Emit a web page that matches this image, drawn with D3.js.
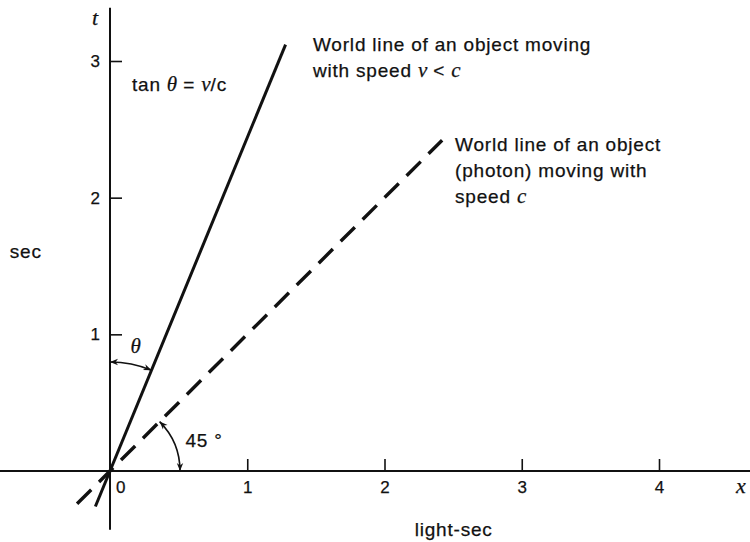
<!DOCTYPE html>
<html>
<head>
<meta charset="utf-8">
<script src="https://cdn.jsdelivr.net/npm/d3@7"></script>
<style>
  body { margin: 0; background: #fff; }
  svg { display: block; }
  .lbl { font-family: "Liberation Sans", Arial, sans-serif; font-size: 19px; letter-spacing: 0.8px; fill: #111; stroke: #111; stroke-width: 0.25px; }
  .math { font-family: "Liberation Serif", "Times New Roman", serif; font-style: italic; letter-spacing: 0; }
  .tick text { font-family: "Liberation Sans", Arial, sans-serif; font-size: 17px; fill: #111; stroke: #111; stroke-width: 0.25px; }
  .tick line { stroke: #111; stroke-width: 1.6; }
</style>
</head>
<body>
<script>
// ------------------------------------------------------------------
// data (x in light-sec, t in sec)
// ------------------------------------------------------------------
var X_TICKS = [1, 2, 3, 4];
var T_TICKS = [1, 2, 3];
var X_AXIS_EXTENT = [-0.81, 4.67];
var T_AXIS_EXTENT = [-0.43, 3.39];

// slow object: v/c, drawn between these times
var SLOW_SPEED = 0.41;
var SLOW_T = [-0.26, 3.12];
// photon: v = c
var PHOTON_SPEED = 1;
var PHOTON_T = [-0.24, 2.42];

var W = 750, H = 542;

var x = d3.scaleLinear().domain([0, 4]).range([110, 659]);
var y = d3.scaleLinear().domain([0, 3]).range([471, 61]);

var svg = d3.select("body").append("svg").attr("width", W).attr("height", H);

var defs = svg.append("defs");
defs.append("marker")
  .attr("id", "arr")
  .attr("viewBox", "0 0 10 10")
  .attr("refX", 10).attr("refY", 5)
  .attr("markerWidth", 11).attr("markerHeight", 8)
  .attr("markerUnits", "userSpaceOnUse")
  .attr("orient", "auto-start-reverse")
  .append("path").attr("d", "M0,1 L10,5 L0,9 L3,5 Z").attr("fill", "#111");

// ---------------------------- axes --------------------------------
svg.append("line")
  .attr("x1", x(X_AXIS_EXTENT[0])).attr("x2", x(X_AXIS_EXTENT[1]))
  .attr("y1", y(0)).attr("y2", y(0))
  .attr("stroke", "#111").attr("stroke-width", 2);
svg.append("line")
  .attr("x1", x(0)).attr("x2", x(0))
  .attr("y1", y(T_AXIS_EXTENT[0])).attr("y2", y(T_AXIS_EXTENT[1]))
  .attr("stroke", "#111").attr("stroke-width", 2);

var gx = svg.append("g").attr("transform", "translate(0," + y(0) + ")")
  .call(d3.axisBottom(x).tickValues(X_TICKS).tickFormat(d3.format("d"))
    .tickSizeInner(-12).tickSizeOuter(0).tickPadding(10));
gx.select(".domain").remove();

var gy = svg.append("g").attr("transform", "translate(" + x(0) + ",0)")
  .call(d3.axisLeft(y).tickValues(T_TICKS).tickFormat(d3.format("d"))
    .tickSizeInner(-12).tickSizeOuter(0).tickPadding(10));
gy.select(".domain").remove();

// origin label, sits right of the t axis
svg.append("text").attr("class", "lbl").style("font-size", "17px")
  .attr("x", x(0) + 6).attr("y", y(0) + 22).text("0");

svg.append("text").attr("class", "lbl math").style("font-size", "22px")
  .attr("x", x(X_AXIS_EXTENT[1]) - 15).attr("y", y(0) + 22).text("x");
svg.append("text").attr("class", "lbl math").style("font-size", "22px")
  .attr("x", x(0) - 18).attr("y", y(T_AXIS_EXTENT[1]) + 17).text("t");

svg.append("text").attr("class", "lbl").attr("x", x(-0.73)).attr("y", y(1.56)).text("sec");
svg.append("text").attr("class", "lbl").attr("x", x(2.22)).attr("y", y(-0.476)).text("light-sec");

// ------------------------ world lines ------------------------------
function worldLine(speed, tRange) {
  return tRange.map(function (t) { return [x(speed * t), y(t)]; });
}
var line = d3.line();

svg.append("path")
  .attr("d", line(worldLine(SLOW_SPEED, SLOW_T)))
  .attr("stroke", "#111").attr("stroke-width", 3).attr("fill", "none");

svg.append("path")
  .attr("d", line(worldLine(PHOTON_SPEED, PHOTON_T)))
  .attr("stroke", "#111").attr("stroke-width", 3.4).attr("fill", "none")
  .attr("stroke-dasharray", "20,11");

// ------------------------ angle arcs -------------------------------
function lineAngle(speed) {
  return Math.atan2(y(1) - y(0), x(speed) - x(0));
}
function arcPath(r, a0, a1) {
  var p = d3.path();
  p.arc(x(0), y(0), r, a0, a1, a1 < a0);
  return p.toString();
}
// theta: between t axis and slow world line
svg.append("path")
  .attr("d", arcPath(109, -Math.PI / 2, lineAngle(SLOW_SPEED)))
  .attr("stroke", "#111").attr("stroke-width", 1.6).attr("fill", "none")
  .attr("marker-start", "url(#arr)").attr("marker-end", "url(#arr)");
// 45 deg: between photon line and x axis
svg.append("path")
  .attr("d", arcPath(70, lineAngle(PHOTON_SPEED), 0))
  .attr("stroke", "#111").attr("stroke-width", 1.6).attr("fill", "none")
  .attr("marker-start", "url(#arr)").attr("marker-end", "url(#arr)");

svg.append("text").attr("class", "lbl math").style("font-size", "21px")
  .attr("x", x(0.15)).attr("y", y(0.86)).text("θ");
svg.append("text").attr("class", "lbl").attr("x", x(0.55)).attr("y", y(0.175)).text("45 °");

// ------------------------ annotations ------------------------------
var tan = svg.append("text").attr("class", "lbl").attr("x", x(0.16)).attr("y", y(2.78));
tan.append("tspan").text("tan ");
tan.append("tspan").attr("class", "math").style("font-size", "21px").text("θ");
tan.append("tspan").text(" = ");
tan.append("tspan").attr("class", "math").style("font-size", "21px").text("v");
tan.append("tspan").text("/c");

var s1 = svg.append("text").attr("class", "lbl").attr("x", x(1.479)).attr("y", y(3.073));
s1.append("tspan").text("World line of an object moving");
var s2 = svg.append("text").attr("class", "lbl").attr("x", x(1.479)).attr("y", y(3.073) + 26);
s2.append("tspan").text("with speed ");
s2.append("tspan").attr("class", "math").style("font-size", "21px").text("v");
s2.append("tspan").text(" < ");
s2.append("tspan").attr("class", "math").style("font-size", "21px").text("c");

var p1 = svg.append("text").attr("class", "lbl").attr("x", x(2.514)).attr("y", y(2.341));
p1.text("World line of an object");
svg.append("text").attr("class", "lbl").attr("x", x(2.514)).attr("y", y(2.341) + 26)
  .text("(photon) moving with");
var p3 = svg.append("text").attr("class", "lbl").attr("x", x(2.514)).attr("y", y(2.341) + 52);
p3.append("tspan").text("speed ");
p3.append("tspan").attr("class", "math").style("font-size", "21px").text("c");
</script>
</body>
</html>
